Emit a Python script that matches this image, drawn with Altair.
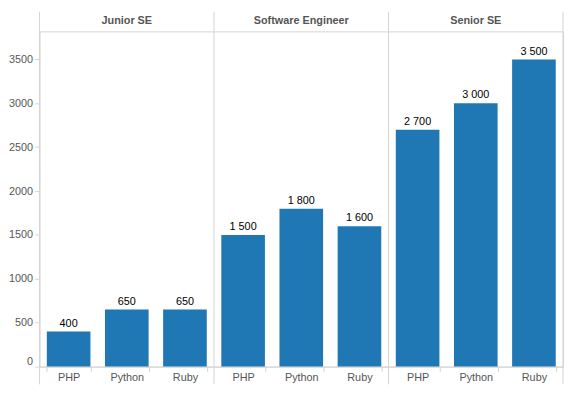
import altair as alt
import pandas as pd

# ---- data ----
roles = ["Junior SE", "Software Engineer", "Senior SE"]
languages = ["PHP", "Python", "Ruby"]
junior_se = [400, 650, 650]
software_engineer = [1500, 1800, 1600]
senior_se = [2700, 3000, 3500]
y_ticks = [0, 500, 1000, 1500, 2000, 2500, 3000, 3500]
y_max = 3820

series = [junior_se, software_engineer, senior_se]
rows = []
for role, vals in zip(roles, series):
    for lang, v in zip(languages, vals):
        rows.append({
            "role": role,
            "language": lang,
            "key": f"{role}|{lang}",
            "value": v,
            "label": f"{v:,}".replace(",", " "),
        })
df = pd.DataFrame(rows)
order = list(df["key"])

bounds = pd.DataFrame({"key": [f"{r}|{languages[0]}" for r in roles]})
end = pd.DataFrame({"key": [f"{roles[-1]}|{languages[-1]}"]})
titles = pd.DataFrame({"role": roles, "key": [f"{r}|{languages[1]}" for r in roles]})

# ---- styling ----
W, H = 531, 340
GRID = "#d4d4d4"
TXT = "#555555"
FONT = "Liberation Sans"
P_IN, P_OUT = 0.25, 0.125
STEP = W / len(order)
GAP = P_OUT * STEP  # half of the space between bands

xscale = alt.Scale(domain=order, paddingInner=P_IN, paddingOuter=P_OUT)
yscale = alt.Scale(domain=[0, y_max], nice=False)

xaxis = alt.Axis(
    title=None, labelExpr="split(datum.label, '|')[1]", tickBand="extent",
    domainColor=GRID, tickColor=GRID, tickSize=5, labelColor=TXT,
    labelFontSize=11, labelFont=FONT, labelPadding=0, labelAngle=0, grid=False,
)
yaxis = alt.Axis(
    title=None, values=y_ticks, format="d", domain=False, tickColor=GRID,
    tickSize=5, labelColor=TXT, labelFontSize=11, labelFont=FONT,
    labelPadding=2, labelFlush=True, grid=False,
)

bars = alt.Chart(df).mark_bar(color="#1f77b4").encode(
    x=alt.X("key:N", scale=xscale, axis=xaxis),
    y=alt.Y("value:Q", scale=yscale, axis=yaxis),
)

labels = alt.Chart(df).mark_text(
    baseline="bottom", dy=-3, fontSize=11, font=FONT, color="#000000"
).encode(
    x=alt.X("key:N"),
    y=alt.Y("value:Q"),
    text="label:N",
)

seps = alt.Chart(bounds).mark_rule(color=GRID, strokeWidth=1, xOffset=-GAP).encode(
    x=alt.X("key:N", bandPosition=0),
    y=alt.value(-20),
    y2=alt.value(H + 18),
)

right = alt.Chart(end).mark_rule(color=GRID, strokeWidth=1, xOffset=GAP).encode(
    x=alt.X("key:N", bandPosition=1),
    y=alt.value(-20),
    y2=alt.value(H + 18),
)

heads = alt.Chart(titles).mark_text(
    fontWeight="bold", fontSize=11, font=FONT, color=TXT, baseline="middle"
).encode(
    x=alt.X("key:N", bandPosition=0.5),
    y=alt.value(-10),
    text="role:N",
)

chart = alt.layer(bars, labels, seps, right, heads).properties(
    width=W, height=H, padding=0
).configure_view(stroke=GRID, strokeWidth=1)

chart.save("out.html", embed_options={"renderer": "svg", "actions": False})
